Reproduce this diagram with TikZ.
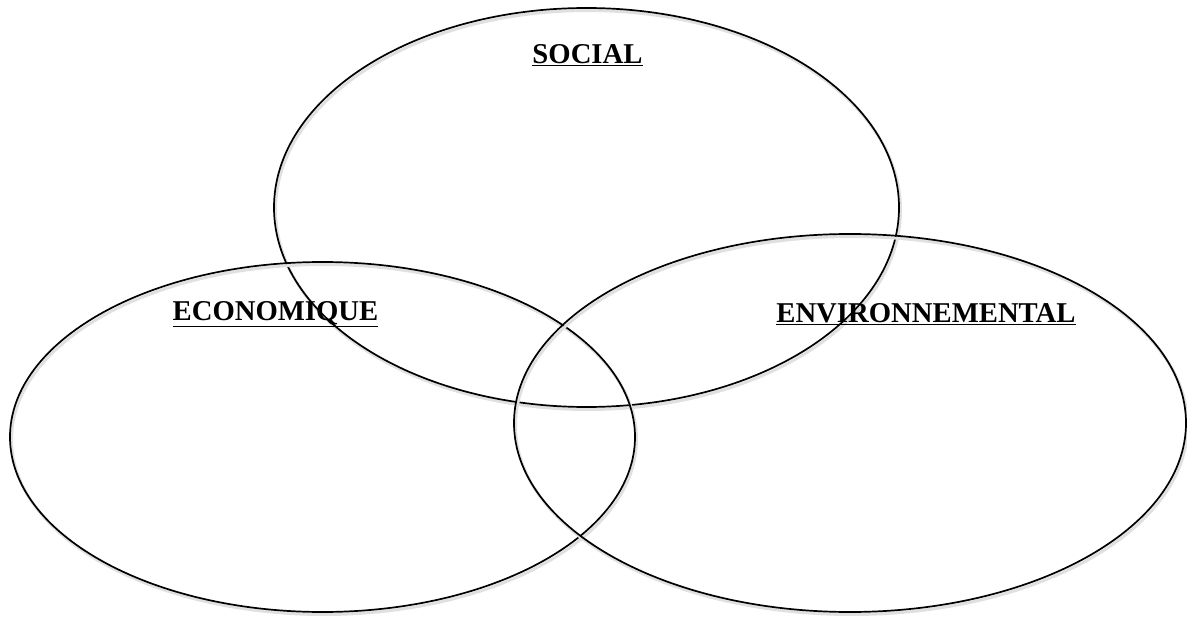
\documentclass[tikz,border=0pt]{standalone}
\usepackage{fontspec}
\setmainfont{Liberation Serif}
\usepackage{tikz}
\usetikzlibrary{shapes.geometric}

\tikzset{
  cercle/.style={ellipse, draw, line width=1.7pt, inner sep=0pt, outer sep=0pt,
    preaction={draw=black!12, line width=3pt, transform canvas={shift={(1.5pt,-2.5pt)}}}},
  titre/.style={font=\fontsize{28.7}{32}\selectfont\bfseries, inner sep=0pt}
}

\begin{document}
\begin{tikzpicture}[x=1pt,y=-1pt]
    \useasboundingbox (0,0) rectangle (1187,618);
      \node[cercle, minimum width=625pt, minimum height=399pt] (S) at (586.5,207.5) {};
      \node[cercle, minimum width=625pt, minimum height=350pt] (E) at (322.5,437) {};
      \node[cercle, minimum width=672pt, minimum height=378pt] (V) at (850,423) {};
        % titres
      \node[titre] (ts) at (587.5,55) {\underline{SOCIAL}};
      \node[titre] (te) at (275.5,314) {\underline{ECONOMIQUE}};
      \node[titre] (tv) at (926,314) {\underline{ENVIRONNEMENTAL}};
\end{tikzpicture}
\end{document}
